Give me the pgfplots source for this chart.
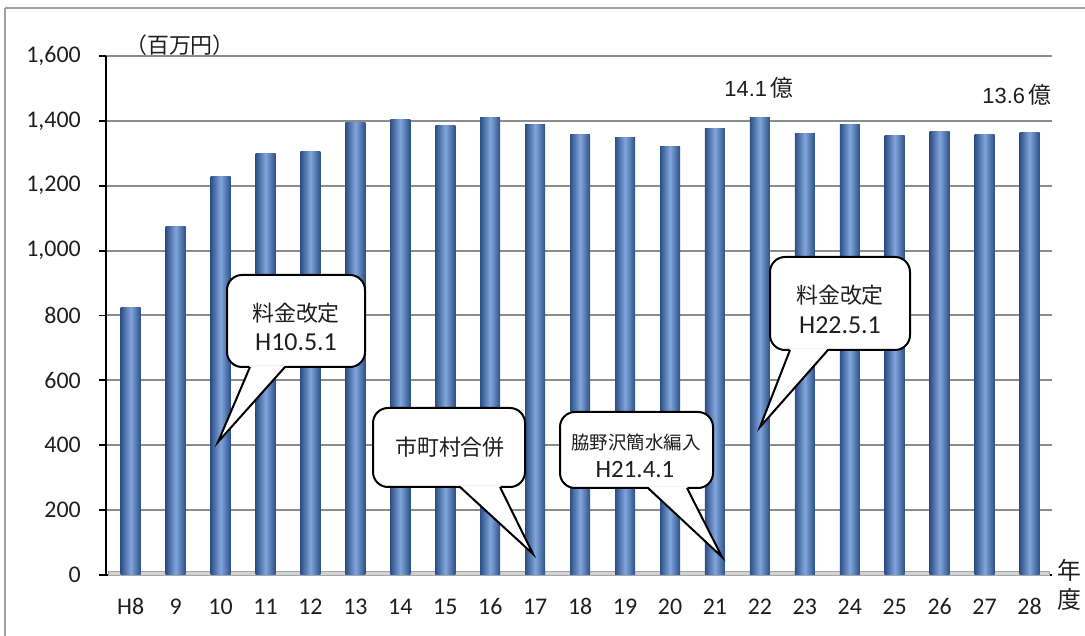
\documentclass[border=0pt]{standalone}
\usepackage{pgfplots}
\pgfplotsset{compat=1.18}
\usepackage{fontspec}
\setmainfont{Carlito}
\newfontfamily\jp{Noto Sans CJK JP}
\newfontfamily\lib{Liberation Sans}
\definecolor{bardark}{HTML}{2E4F88}
\definecolor{barlight}{HTML}{80A6DC}
\definecolor{gridc}{HTML}{8C8C8C}
\definecolor{txt}{HTML}{1E1E1E}
\definecolor{frame}{HTML}{A0A0A0}

\pgfplotsset{barsty/.style={ybar, bar width=20bp, bar shift=0pt, draw=none, left color=bardark, right color=bardark, middle color=barlight}}

\newcommand{\callout}[8]{%
  \draw[line width=2bp, fill=white, rounded corners=15bp] (#1bp,#4bp) rectangle (#2bp,#3bp);
  \fill[white] (#5bp,#4bp+1.6bp) -- (#7bp,#8bp) -- (#6bp,#4bp+1.6bp) -- cycle;
  \draw[line width=2bp, line join=miter] (#5bp,#4bp) -- (#7bp,#8bp) -- (#6bp,#4bp);
}

\begin{document}
\begin{tikzpicture}
\draw[frame, line width=1.5bp] (5bp,628bp) -- (1100bp,628bp);
\draw[frame, line width=1.5bp] (5bp,628bp) -- (5bp,-10bp);
\begin{axis}[
  at={(106bp,61bp)}, anchor=south west,
  scale only axis, width=946bp, height=519bp,
  xmin=-0.55, xmax=20.5, ymin=0, ymax=1600,
  axis x line*=bottom, axis y line*=left,
  axis line style={black, line width=2bp},
  tick align=outside,
  major tick length=7bp,
  every tick/.style={black, line width=1.8bp},
  ytick={0,200,...,1600},
  /pgf/number format/1000 sep={,},
  /pgf/number format/assume math mode=true,
  yticklabel style={font=\fontsize{24}{24}\selectfont, text=txt, anchor=east, inner sep=0pt, xshift=-18bp},
  ymajorgrids,
  major grid style={gridc, line width=2bp},
  xtick={0,...,20},
  xticklabels={H8,9,10,11,12,13,14,15,16,17,18,19,20,21,22,23,24,25,26,27,28},
  xtick style={draw=none},
  xticklabel style={font=\fontsize{24}{24}\selectfont, text=txt, anchor=base, inner sep=0pt, yshift=-32.5bp},
  extra x ticks={0.47,1.47,2.47,3.47,4.47,5.47,6.47,7.47,8.47,9.47,10.47,11.47,12.47,13.47,14.47,15.47,16.47,17.47,18.47,19.47,20.5},
  extra x tick labels={},
  extra x tick style={tick style={draw=black, line width=1.8bp}},
  clip=false,
]
\fill[gray!35, draw=gray!70, line width=0.8bp] (axis cs:-0.5,0) rectangle (axis cs:20.45,12);
\addplot[barsty] coordinates {(0,825)};
\addplot[barsty] coordinates {(1,1074)};
\addplot[barsty] coordinates {(2,1227)};
\addplot[barsty] coordinates {(3,1300)};
\addplot[barsty] coordinates {(4,1305)};
\addplot[barsty] coordinates {(5,1395)};
\addplot[barsty] coordinates {(6,1403)};
\addplot[barsty] coordinates {(7,1385)};
\addplot[barsty] coordinates {(8,1411)};
\addplot[barsty] coordinates {(9,1390)};
\addplot[barsty] coordinates {(10,1357)};
\addplot[barsty] coordinates {(11,1348)};
\addplot[barsty] coordinates {(12,1321)};
\addplot[barsty] coordinates {(13,1377)};
\addplot[barsty] coordinates {(14,1411)};
\addplot[barsty] coordinates {(15,1362)};
\addplot[barsty] coordinates {(16,1388)};
\addplot[barsty] coordinates {(17,1354)};
\addplot[barsty] coordinates {(18,1366)};
\addplot[barsty] coordinates {(19,1358)};
\addplot[barsty] coordinates {(20,1363)};
\end{axis}
\node[txt, font=\jp\fontsize{22}{22}\selectfont] at (180bp,591bp) {（百万円）};
\node[txt, font=\jp\fontsize{24}{24}\selectfont] at (1069bp,66bp) {年};
\node[txt, font=\jp\fontsize{24}{24}\selectfont] at (1069bp,37bp) {度};
\node[txt, font=\lib\fontsize{22}{22}\selectfont] at (759bp,548bp) {14.1\,{\jp\fontsize{23}{23}\selectfont 億}};
\node[txt, font=\lib\fontsize{22}{22}\selectfont] at (1017bp,541bp) {13.6\,{\jp\fontsize{23}{23}\selectfont 億}};
\callout{227}{365}{361}{269}{250}{285}{218}{194}
\node[txt, font=\jp\fontsize{22}{22}\selectfont] at (296bp,323bp) {料金改定};
\node[txt, font=\fontsize{26}{26}\selectfont] at (296bp,294bp) {H10.5.1};
\callout{373}{525}{228}{149}{460}{500}{533}{82}
\node[txt, font=\jp\fontsize{22}{22}\selectfont] at (450bp,189bp) {市町村合併};
\callout{560}{713}{224}{148}{648}{687}{722}{79}
\node[txt, font=\jp\fontsize{18.5}{18.5}\selectfont] at (636bp,194bp) {脇野沢簡水編入};
\node[txt, font=\fontsize{25}{25}\selectfont] at (635bp,166bp) {H21.4.1};
\callout{770}{910}{379}{286}{790}{828}{760}{209}
\node[txt, font=\jp\fontsize{22}{22}\selectfont] at (840bp,341bp) {料金改定};
\node[txt, font=\fontsize{26}{26}\selectfont] at (840bp,311bp) {H22.5.1};
\pgfresetboundingbox
\useasboundingbox (0bp,0bp) rectangle (1085bp,636bp);
\end{tikzpicture}
\end{document}
